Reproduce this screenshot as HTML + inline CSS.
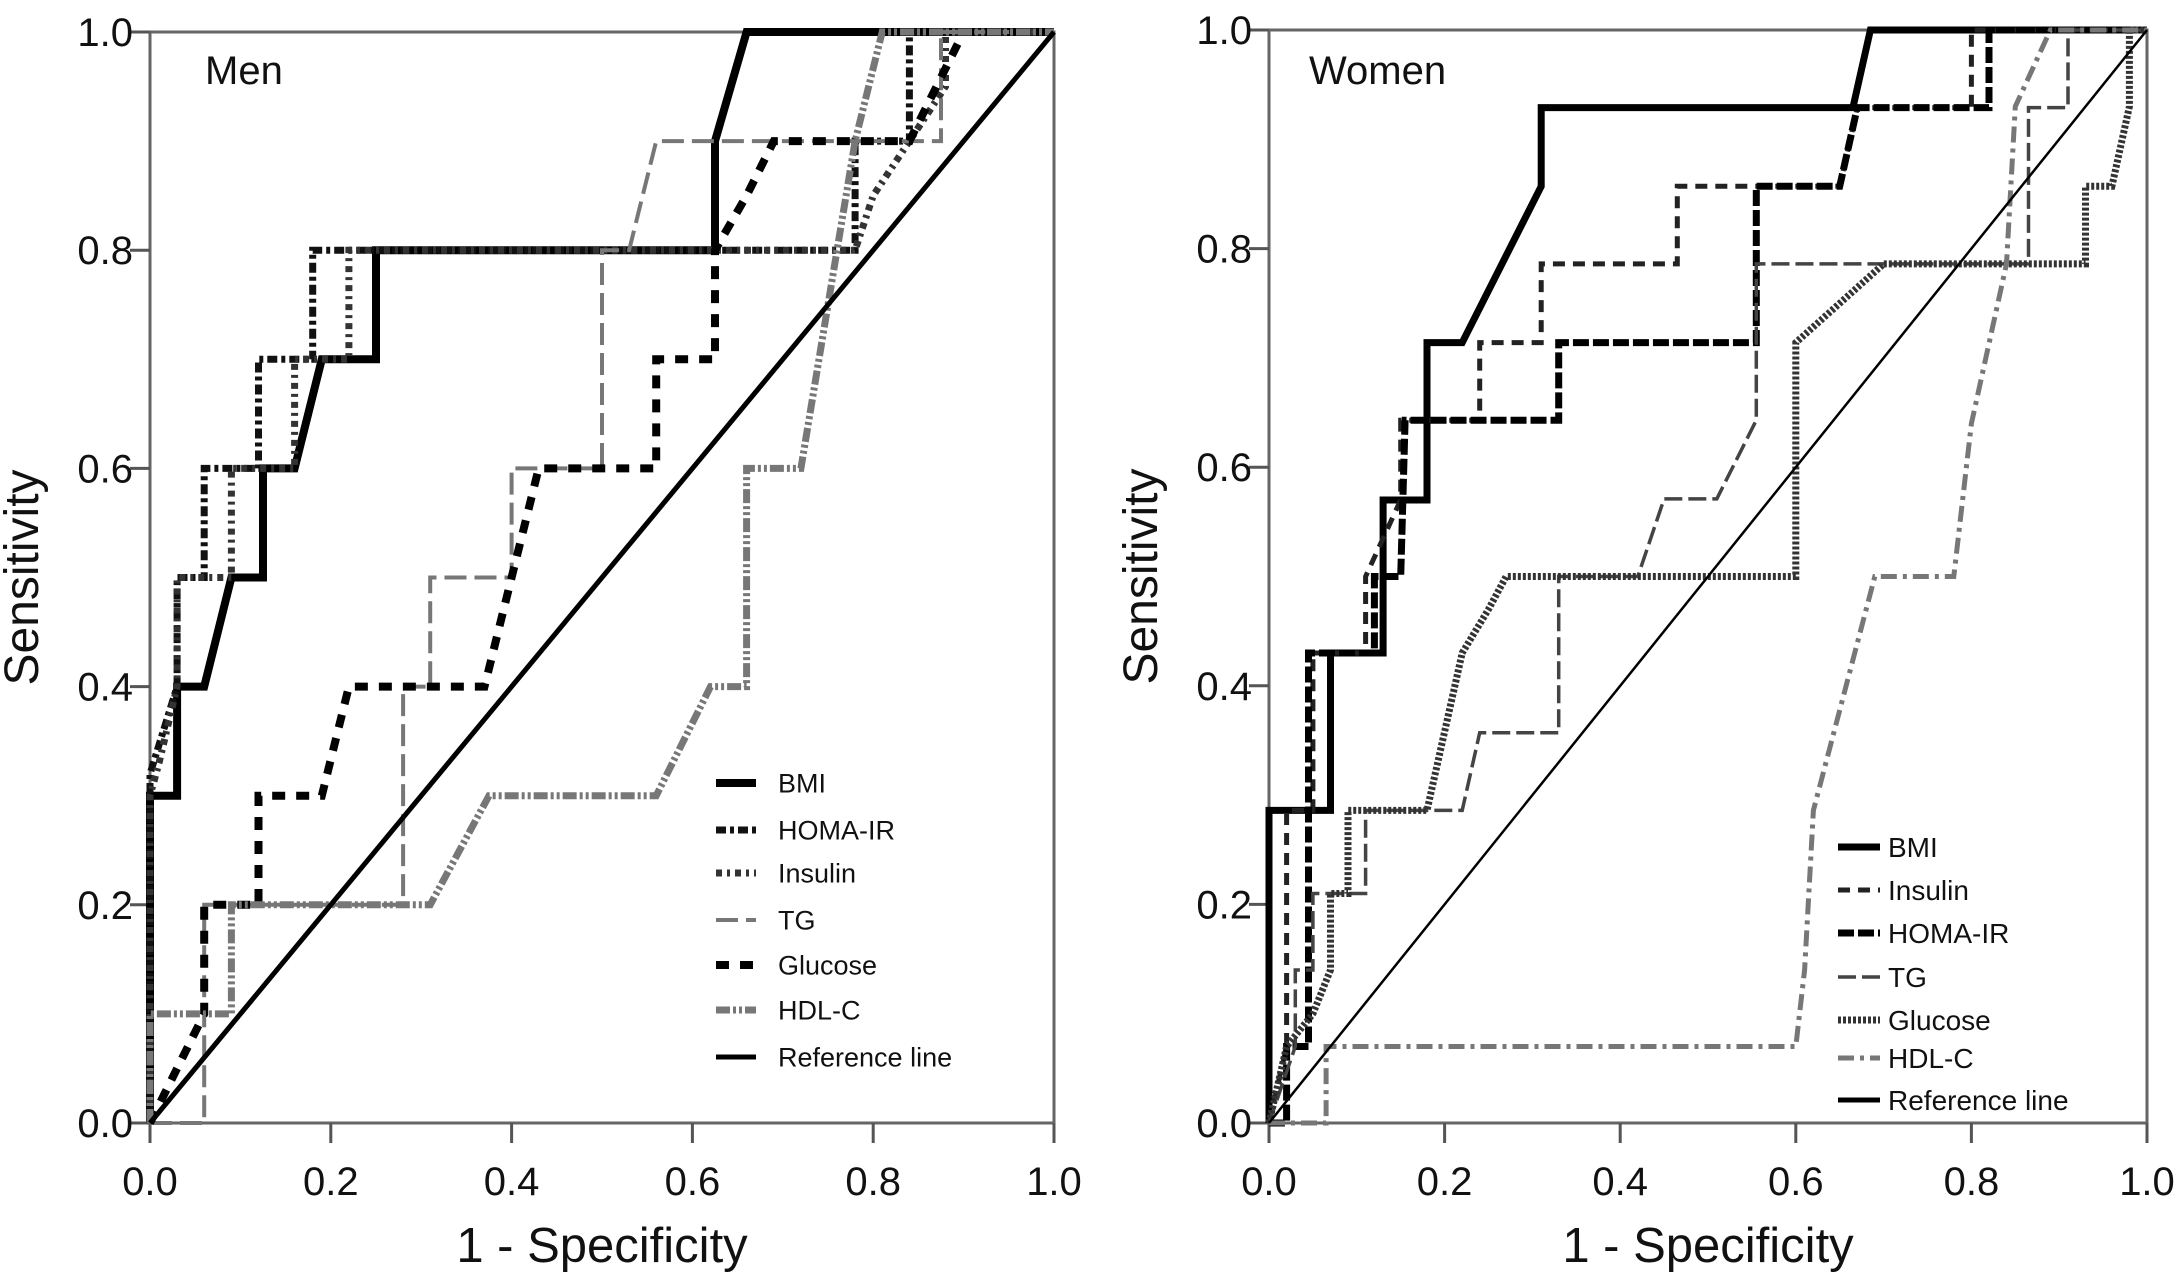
<!DOCTYPE html>
<html><head><meta charset="utf-8">
<style>
html,body{margin:0;padding:0;background:#fff;}
svg{display:block;font-family:"Liberation Sans",Arial,sans-serif;}
</style></head>
<body>
<svg id="chart" width="2181" height="1285" viewBox="0 0 2181 1285" xmlns="http://www.w3.org/2000/svg">
<g id="men"></g>
<g id="women"></g>
</svg>
<script>
const ticks = [0, 0.2, 0.4, 0.6, 0.8, 1.0];
const tickLabels = ["0.0","0.2","0.4","0.6","0.8","1.0"];
// Men series: [1-specificity, sensitivity]
const menBMI = [[0,0],[0,0.3],[0.03,0.3],[0.03,0.4],[0.06,0.4],[0.09,0.5],[0.125,0.5],[0.125,0.6],[0.16,0.6],[0.19,0.7],[0.25,0.7],[0.25,0.8],[0.625,0.8],[0.625,0.9],[0.66,1],[1,1]];
const menHOMA = [[0,0],[0,0.32],[0.03,0.4],[0.03,0.5],[0.06,0.5],[0.06,0.6],[0.12,0.6],[0.12,0.7],[0.18,0.7],[0.18,0.8],[0.78,0.8],[0.78,0.9],[0.84,0.9],[0.84,1],[1,1]];
const menInsulin = [[0,0],[0,0.3],[0.01,0.33],[0.03,0.4],[0.03,0.5],[0.09,0.5],[0.09,0.6],[0.16,0.6],[0.16,0.7],[0.22,0.7],[0.22,0.8],[0.78,0.8],[0.8,0.85],[0.84,0.9],[0.88,0.95],[0.88,1],[1,1]];
const menTG = [[0,0],[0.06,0],[0.06,0.2],[0.28,0.2],[0.28,0.4],[0.31,0.4],[0.31,0.5],[0.4,0.5],[0.4,0.6],[0.5,0.6],[0.5,0.8],[0.53,0.8],[0.56,0.9],[0.875,0.9],[0.875,1],[1,1]];
const menGlucose = [[0,0],[0.06,0.1],[0.06,0.2],[0.12,0.2],[0.12,0.3],[0.19,0.3],[0.22,0.4],[0.37,0.4],[0.4,0.5],[0.43,0.6],[0.56,0.6],[0.56,0.7],[0.625,0.7],[0.625,0.8],[0.66,0.85],[0.69,0.9],[0.84,0.9],[0.9,1],[1,1]];
const menHDL = [[0,0],[0,0.1],[0.09,0.1],[0.09,0.2],[0.31,0.2],[0.375,0.3],[0.56,0.3],[0.62,0.4],[0.66,0.4],[0.66,0.6],[0.72,0.6],[0.75,0.75],[0.78,0.9],[0.81,1],[1,1]];
// Women series
const womenBMI = [[0,0],[0,0.286],[0.07,0.286],[0.07,0.43],[0.13,0.43],[0.13,0.57],[0.18,0.57],[0.18,0.714],[0.22,0.714],[0.31,0.857],[0.31,0.929],[0.665,0.929],[0.685,1],[1,1]];
const womenInsulin = [[0,0],[0.02,0.07],[0.02,0.286],[0.05,0.286],[0.05,0.43],[0.11,0.43],[0.11,0.5],[0.15,0.57],[0.15,0.643],[0.24,0.643],[0.24,0.714],[0.31,0.714],[0.31,0.786],[0.465,0.786],[0.465,0.857],[0.65,0.857],[0.67,0.929],[0.8,0.929],[0.8,1],[1,1]];
const womenHOMA = [[0,0],[0.02,0],[0.02,0.07],[0.045,0.07],[0.045,0.43],[0.12,0.43],[0.12,0.5],[0.15,0.5],[0.155,0.643],[0.33,0.643],[0.33,0.714],[0.555,0.714],[0.555,0.857],[0.65,0.857],[0.67,0.929],[0.82,0.929],[0.82,1],[1,1]];
const womenTG = [[0,0],[0.03,0.07],[0.03,0.14],[0.05,0.14],[0.05,0.21],[0.11,0.21],[0.11,0.286],[0.22,0.286],[0.24,0.357],[0.33,0.357],[0.33,0.5],[0.42,0.5],[0.45,0.571],[0.51,0.571],[0.555,0.643],[0.555,0.786],[0.865,0.786],[0.865,0.929],[0.91,0.929],[0.91,1],[1,1]];
const womenGlucose = [[0,0],[0.02,0.07],[0.05,0.1],[0.07,0.14],[0.07,0.21],[0.09,0.21],[0.09,0.286],[0.18,0.286],[0.22,0.43],[0.25,0.47],[0.27,0.5],[0.6,0.5],[0.6,0.714],[0.65,0.75],[0.7,0.786],[0.93,0.786],[0.93,0.857],[0.96,0.857],[0.98,0.93],[0.98,1],[1,1]];
const womenHDL = [[0,0],[0.065,0],[0.065,0.07],[0.6,0.07],[0.61,0.14],[0.62,0.286],[0.69,0.5],[0.78,0.5],[0.8,0.64],[0.84,0.786],[0.85,0.93],[0.89,1],[1,1]];
const refLine = [[0,0],[1,1]];

const NS = "http://www.w3.org/2000/svg";
function mk(tag, attrs, parent){const e=document.createElementNS(NS,tag);for(const k in attrs)e.setAttribute(k,attrs[k]);parent.appendChild(e);return e;}

function panel(g, box, title, series, legend){
  const sx = v => box.x0 + v*(box.x1-box.x0);
  const sy = v => box.y0 - v*(box.y0-box.y1);
  const frame = mk('rect',{x:box.x0,y:box.y1,width:box.x1-box.x0,height:box.y0-box.y1,fill:'none',stroke:'#666','stroke-width':3},g);
  
  
  ticks.forEach((t,i)=>{
    const xt = mk('line',{x1:sx(t),x2:sx(t),y1:box.y0,y2:box.y0+20,stroke:'#555','stroke-width':3},g);
    
    
    const yt = mk('line',{x1:box.x0-20,x2:box.x0,y1:sy(t),y2:sy(t),stroke:'#555','stroke-width':3},g);
    
    
    const xl = mk('text',{x:sx(t),y:box.y0+72,'font-size':40,'text-anchor':'middle',fill:'#111'},g);
    xl.textContent = tickLabels[i];
    
    
    const yl = mk('text',{x:box.x0-17,y:sy(t)+14,'font-size':40,'text-anchor':'end',fill:'#111'},g);
    yl.textContent = tickLabels[i];
    
    
  });
  const xt = mk('text',{x:(box.x0+box.x1)/2,y:1262,'font-size':49,'text-anchor':'middle',fill:'#111'},g);
  xt.textContent='1 - Specificity';
  
  
  const yx = box.x0-112, yy=(box.y0+box.y1)/2;
  const ytl = mk('text',{x:yx,y:yy,'font-size':48,'text-anchor':'middle',fill:'#111',transform:`rotate(-90 ${yx} ${yy})`},g);
  ytl.textContent='Sensitivity';
  
  
  const tt = mk('text',{x:box.x0+title.dx,y:box.y1+title.dy,'font-size':40,fill:'#111'},g);
  tt.textContent=title.text;
  
  
  series.forEach(s=>{
    const d = s.data.map((p,i)=>(i?'L':'M')+sx(p[0]).toFixed(1)+' '+sy(p[1]).toFixed(1)).join(' ');
    const p = mk('path',{d:d,fill:'none',stroke:s.color,'stroke-width':s.w,'stroke-dasharray':s.dash||'none'},g);
    
    
  });
  legend.items.forEach((s,i)=>{
    const y = legend.ys[i];
    const l = mk('line',{x1:legend.lx1,x2:legend.lx2,y1:y,y2:y,stroke:s.color,'stroke-width':s.lw||s.w,'stroke-dasharray':s.ldash||s.dash||'none'},g);
    
    
    const t = mk('text',{x:legend.tx,y:y+legend.fs*0.36,'font-size':legend.fs,fill:'#111'},g);
    t.textContent = s.label;
    
    
  });
}

const menSeries = [
  {name:'men-bmi-curve',label:'BMI',data:menBMI,color:'#000',w:8},
  {name:'men-homa-ir-curve',label:'HOMA-IR',data:menHOMA,color:'#111',w:7,dash:'10 4 4 4'},
  {name:'men-insulin-curve',label:'Insulin',data:menInsulin,color:'#333',w:7,dash:'6 5 3 5'},
  {name:'men-tg-curve',label:'TG',data:menTG,color:'#777',w:4,dash:'22 8'},
  {name:'men-glucose-curve',label:'Glucose',data:menGlucose,color:'#000',w:8,dash:'13 11'},
  {name:'men-hdl-c-curve',label:'HDL-C',data:menHDL,color:'#777',w:7,dash:'14 3 3 3 3 3'},
  {name:'men-reference-line',label:'Reference line',data:refLine,color:'#000',w:5}
];
panel(document.getElementById('men'),{x0:150,x1:1054,y0:1123,y1:32},{text:'Men',dx:55,dy:52},menSeries,
  {items:menSeries,ys:[783,830,873,920,965,1010,1057],lx1:716,lx2:756,tx:778,fs:27});

const womenSeries = [
  {name:'women-bmi-curve',label:'BMI',data:womenBMI,color:'#000',w:7},
  {name:'women-insulin-curve',label:'Insulin',data:womenInsulin,color:'#222',w:5,dash:'12 8'},
  {name:'women-homa-ir-curve',label:'HOMA-IR',data:womenHOMA,color:'#000',w:7,dash:'16 4'},
  {name:'women-tg-curve',label:'TG',data:womenTG,color:'#444',w:3.5,dash:'18 6'},
  {name:'women-glucose-curve',label:'Glucose',data:womenGlucose,color:'#333',w:7,dash:'3 2'},
  {name:'women-hdl-c-curve',label:'HDL-C',data:womenHDL,color:'#777',w:5,dash:'16 6 4 6'},
  {name:'women-reference-line',label:'Reference line',data:refLine,color:'#000',w:2.5,lw:5}
];
panel(document.getElementById('women'),{x0:1269,x1:2147,y0:1123,y1:30},{text:'Women',dx:40,dy:54},womenSeries,
  {items:womenSeries,ys:[847,890,933,977,1020,1058,1100],lx1:1838,lx2:1880,tx:1888,fs:28});
</script>
</body></html>
